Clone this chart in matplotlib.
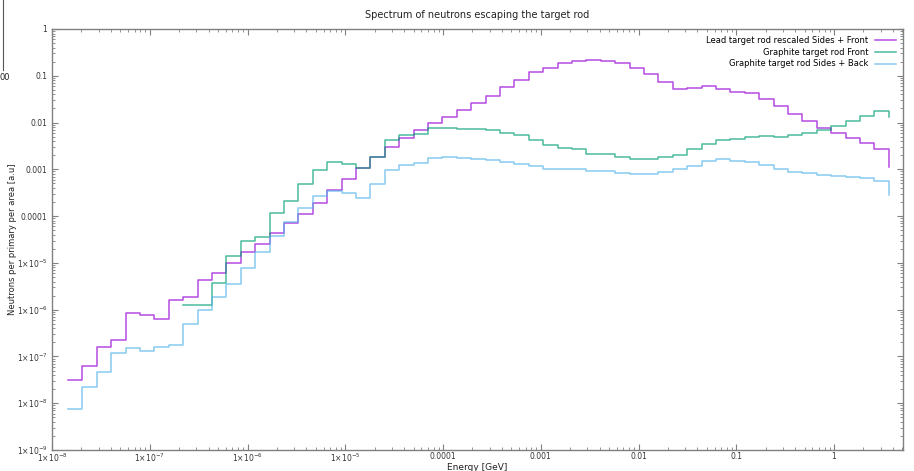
import numpy as np
import matplotlib
matplotlib.use('Agg')
import matplotlib.pyplot as plt
from matplotlib.ticker import FuncFormatter, LogLocator, NullFormatter
from matplotlib.lines import Line2D

# log-spaced energy bins [GeV]
log_lo = -7.836
log_hi = 0.561
nbins = 57
edges = np.logspace(log_lo, log_hi, nbins + 1)

lead = [3.1e-8, 6.4e-8, 1.57e-7, 2.25e-7, 8.4e-7, 7.7e-7, 6.2e-7, 1.6e-6, 1.84e-6, 4.3e-6,
        6.0e-6, 1.0e-5, 1.71e-5, 2.54e-5, 4.3e-5, 7.0e-5, 1.11e-4, 1.87e-4, 3.6e-4, 6.2e-4,
        1.09e-3, 1.87e-3, 3.06e-3, 4.6e-3, 6.9e-3, 9.95e-3, 1.34e-2, 1.86e-2, 2.58e-2, 3.76e-2,
        5.66e-2, 8.1e-2, 0.119, 0.149, 0.185, 0.21, 0.221, 0.21, 0.185, 0.149,
        0.107, 0.0725, 0.053, 0.0552, 0.0596, 0.0514, 0.0457, 0.0422, 0.0324, 0.023,
        0.015, 0.0106, 7.65e-3, 5.9e-3, 4.7e-3, 3.7e-3, 2.7e-3]
lead_end = 1.14e-3

front = [np.nan] * 8 + [
        1.26e-6, 1.26e-6, 3.8e-6, 1.4e-5, 2.9e-5, 3.64e-5, 1.15e-4, 2.14e-4, 4.9e-4, 9.7e-4,
        1.46e-3, 1.32e-3, 1.07e-3, 1.87e-3, 4.15e-3, 5.4e-3, 5.6e-3, 7.7e-3, 7.7e-3, 7.3e-3,
        7.3e-3, 6.9e-3, 6.0e-3, 5.4e-3, 4.2e-3, 3.25e-3, 2.86e-3, 2.76e-3, 2.18e-3, 2.08e-3,
        1.82e-3, 1.65e-3, 1.64e-3, 1.84e-3, 2.0e-3, 2.68e-3, 3.5e-3, 4.2e-3, 4.5e-3, 4.8e-3,
        5.1e-3, 4.8e-3, 5.3e-3, 6.0e-3, 6.9e-3, 8.4e-3, 0.0108, 0.0138, 0.0174]
front_end = 0.0129

sides = [7.7e-9, 2.26e-8, 4.66e-8, 1.17e-7, 1.49e-7, 1.33e-7, 1.57e-7, 1.76e-7, 4.9e-7, 1.0e-6,
         1.84e-6, 3.5e-6, 7.7e-6, 1.71e-5, 3.76e-5, 7.4e-5, 1.47e-4, 2.7e-4, 3.44e-4, 3.07e-4,
         2.48e-4, 4.8e-4, 9.7e-4, 1.24e-3, 1.39e-3, 1.72e-3, 1.81e-3, 1.72e-3, 1.64e-3, 1.6e-3,
         1.47e-3, 1.33e-3, 1.16e-3, 1.03e-3, 1.03e-3, 1.04e-3, 9.0e-4, 9.2e-4, 8.5e-4, 8.1e-4,
         8.1e-4, 8.8e-4, 1.03e-3, 1.2e-3, 1.51e-3, 1.66e-3, 1.53e-3, 1.41e-3, 1.22e-3, 1.03e-3,
         8.9e-4, 8.2e-4, 7.6e-4, 7.2e-4, 6.7e-4, 6.5e-4, 5.5e-4]
sides_end = 2.8e-4

labels = ['Lead target rod rescaled Sides + Front', 'Graphite target rod Front',
          'Graphite target rod Sides + Back']
colors = ['#9400d3', '#009e73', '#56b4e9']

fig = plt.figure(figsize=(9.14, 4.71), dpi=100)
ax = fig.add_axes([52/914, 1-450/471, (903-52)/914, (450-29)/471])

for vals, end, lab, c in zip([lead, front, sides], [lead_end, front_end, sides_end], labels, colors):
	ax.step(edges, np.append(vals, end), where='post', color=c, lw=1.1, alpha=0.7, label=lab)

ax.set_xscale('log')
ax.set_yscale('log')
ax.set_xlim(1e-8, 5.08)
ax.set_ylim(1e-9, 1)

def fmt(v, pos):
	e = int(round(np.log10(v)))
	if e >= -4:
		return ('%.*f' % (max(0, -e), v))
	return r'1$\times$10$^{%d}$' % e

ax.xaxis.set_major_locator(LogLocator(base=10, numticks=20))
ax.yaxis.set_major_locator(LogLocator(base=10, numticks=20))
ax.xaxis.set_minor_locator(LogLocator(base=10, subs=np.arange(2, 10), numticks=20))
ax.yaxis.set_minor_locator(LogLocator(base=10, subs=np.arange(2, 10), numticks=20))
ax.xaxis.set_major_formatter(FuncFormatter(fmt))
ax.yaxis.set_major_formatter(FuncFormatter(fmt))
ax.xaxis.set_minor_formatter(NullFormatter())
ax.yaxis.set_minor_formatter(NullFormatter())
ax.tick_params(which='both', direction='in', top=True, right=True, labelsize=5.5,
               color='#808080', labelcolor='#333333')
ax.tick_params(which='major', length=4, width=0.8)
ax.tick_params(which='minor', length=2, width=0.6)
ax.tick_params(axis='x', which='major', pad=1.5)
for s in ax.spines.values():
	s.set_color('#808080')
	s.set_linewidth(1)

ax.set_title('Spectrum of neutrons escaping the target rod', fontsize=7, pad=8, color='#222222')
ax.set_xlabel('Energy [GeV]', fontsize=6.5, labelpad=-1, color='#222222')
ax.set_ylabel('Neutrons per primary per area [a.u]', fontsize=6, color='#222222')
ax.yaxis.set_label_coords((17-52)/851, 0.5)

ax.legend(loc='upper right', frameon=False, markerfirst=False, fontsize=6, handlelength=2.6,
          labelspacing=0.35, borderaxespad=0.4, handletextpad=0.8)

# stray piece of another plot in the corner
fig.add_artist(Line2D([2.5/914, 2.5/914], [1, 1-70/471], color='#555555', lw=0.8))
fig.text(0, 1-77/471, '00', fontsize=6, va='center', ha='left', color='#222222')

plt.savefig('out.png', dpi=100)
plt.close()
